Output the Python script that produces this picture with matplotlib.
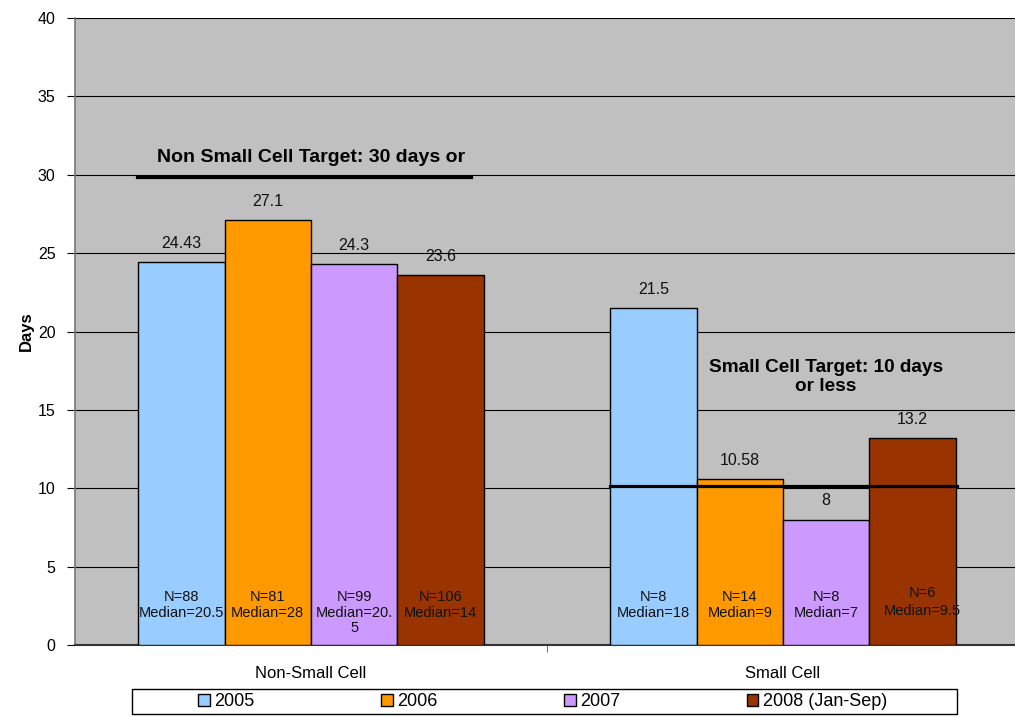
import numpy as np
import matplotlib.pyplot as plt
from matplotlib.patches import Rectangle

plt.rcParams['font.family'] = ['Liberation Sans', 'DejaVu Sans']

# Data
categories = ['Non-Small Cell', 'Small Cell']
years = ['2005', '2006', '2007', '2008 (Jan-Sep)']
colors = ['#99CCFF', '#FF9900', '#CC99FF', '#993300']
values = {
    '2005': [24.43, 21.5],
    '2006': [27.1, 10.58],
    '2007': [24.3, 8],
    '2008 (Jan-Sep)': [23.6, 13.2],
}
value_labels = {
    '2005': ['24.43', '21.5'],
    '2006': ['27.1', '10.58'],
    '2007': ['24.3', '8'],
    '2008 (Jan-Sep)': ['23.6', '13.2'],
}
n_labels = {
    '2005': ['N=88\nMedian=20.5', 'N=8\nMedian=18'],
    '2006': ['N=81\nMedian=28', 'N=14\nMedian=9'],
    '2007': ['N=99\nMedian=20.\n5', 'N=8\nMedian=7'],
    '2008 (Jan-Sep)': ['N=106\nMedian=14', 'N=6\nMedian=9.5'],
}
targets = [29.85, 10.15]
target_texts = ['Non Small Cell Target: 30 days or', 'Small Cell Target: 10 days\nor less']

fig = plt.figure(figsize=(10.15, 7.17), dpi=100)
ax = fig.add_axes([75/1015, 1 - 645/717, 944/1015, 627/717])
ax.set_facecolor('#C0C0C0')

x = np.arange(len(categories))
width = 0.183

for i, yr in enumerate(years):
    pos = x + (i - 1.5) * width
    bars = ax.bar(pos, values[yr], width, color=colors[i], edgecolor='black',
                  linewidth=1, label=yr, zorder=3)
    for j, b in enumerate(bars):
        ax.annotate(value_labels[yr][j], xy=(b.get_x() + b.get_width()/2, b.get_height()),
                    xytext=(0, 8), textcoords='offset points', ha='center', va='bottom',
                    fontsize=11.5, color='#111111', zorder=5)
        special = (i == 3 and j == 1)
        dx = 0.02 if special else 0
        y0 = 3.75 if special else 3.5
        ls = 1.35 if special else 1.15
        ax.text(b.get_x() + b.get_width()/2 + dx, y0, n_labels[yr][j], ha='center', va='top',
                fontsize=10.5, linespacing=ls, color='#111111', zorder=5)

# target lines
ax.plot([-0.369, 0.339], [targets[0]] * 2, color='black', lw=2.3, zorder=4)
ax.plot([1 - 0.367, 1 + 0.369], [targets[1]] * 2, color='black', lw=2.3, zorder=4)
ax.text(0.0, 31.07, target_texts[0], ha='center', va='center', fontsize=14,
        fontweight='bold', zorder=5)
ax.text(1.091, 17.1, target_texts[1], ha='center', va='center', fontsize=13.7,
        fontweight='bold', linespacing=1.2, zorder=5)

ax.set_ylim(0, 40)
ax.set_xlim(-0.5, 1.5)
ax.set_yticks(np.arange(0, 41, 5))
ax.tick_params(axis='y', labelsize=11.5, length=6, pad=8, direction='out', colors='black')
ax.yaxis.grid(True, color='black', linewidth=0.8, zorder=0)
ax.set_axisbelow(True)
ax.set_xticks(x)
ax.set_xticklabels(categories, fontsize=12)
ax.tick_params(axis='x', length=0, pad=15)
ax.set_xticks([0.5], minor=True)
ax.tick_params(axis='x', which='minor', length=5, color='#555555')

for s in ['top', 'right']:
    ax.spines[s].set_visible(False)
ax.spines['left'].set_color('#777777')
ax.spines['bottom'].set_color('#333333')
ax.spines['left'].set_linewidth(1.2)
ax.spines['bottom'].set_linewidth(1.5)

ax.set_ylabel('Days', fontsize=12, fontweight='bold', labelpad=3)

# legend frame drawn separately (Excel-like padding)
fig.patches.append(Rectangle((132/1015, 1 - 714/717), 825/1015, 25/717,
                             transform=fig.transFigure, facecolor='white',
                             edgecolor='black', linewidth=1))
handles, labels = ax.get_legend_handles_labels()
leg = fig.legend(handles, labels, loc='center left', bbox_to_anchor=(189/1015, 1 - 702/717),
                 ncol=4, frameon=False, fontsize=13, borderpad=0,
                 handlelength=0.65, handleheight=0.65, handletextpad=0.25,
                 columnspacing=7.0)

fig.savefig('out.png', dpi=100)
